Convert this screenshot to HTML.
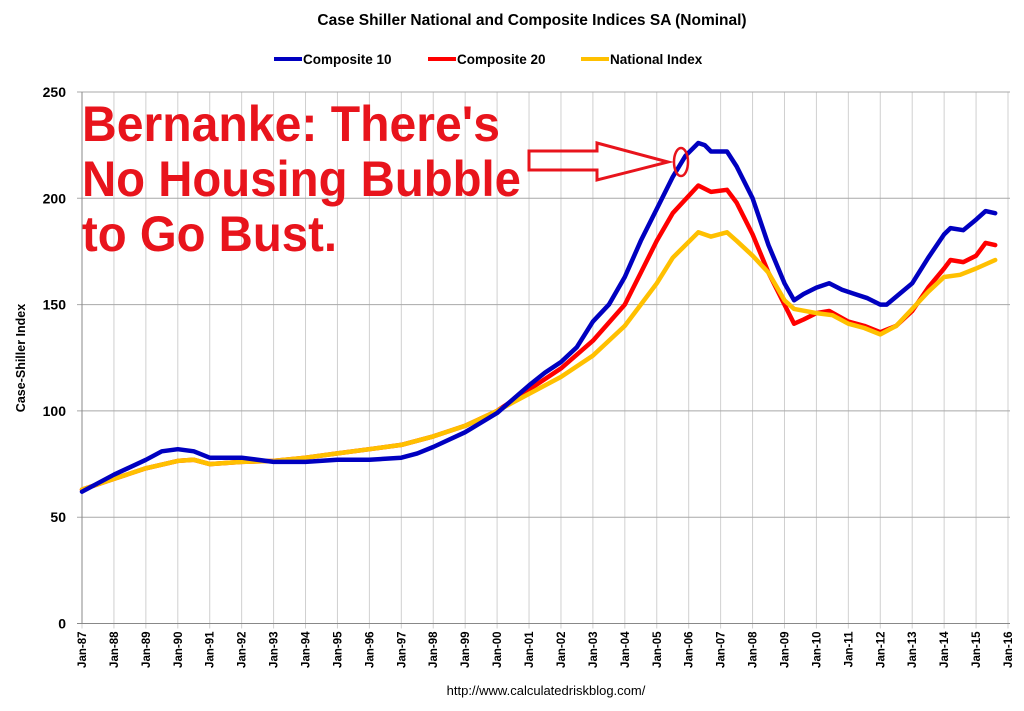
<!DOCTYPE html>
<html><head><meta charset="utf-8"><style>
body{margin:0;background:#fff}
svg{display:block;font-family:"Liberation Sans",sans-serif}
</style></head><body>
<svg id="chart" width="1024" height="711" viewBox="0 0 1024 711">
<text x="532" y="25" text-anchor="middle" font-size="15.5" font-weight="bold">Case Shiller National and Composite Indices SA (Nominal)</text>
<g font-size="13.5" font-weight="bold">
 <g><line x1="274" y1="59" x2="302" y2="59" stroke="#0000c0" stroke-width="4"/><text x="303" y="64">Composite 10</text></g>
 <g><line x1="428" y1="59" x2="456" y2="59" stroke="#f00" stroke-width="4"/><text x="457" y="64">Composite 20</text></g>
 <g><line x1="581" y1="59" x2="609" y2="59" stroke="#ffc000" stroke-width="4"/><text x="610" y="64">National Index</text></g>
</g>
<g id="grid"></g>
<g id="axes"></g>
<g id="series"></g>
<text transform="translate(25,358) rotate(-90)" text-anchor="middle" font-size="12.5" font-weight="bold">Case-Shiller Index</text>
<text x="546" y="695" text-anchor="middle" font-size="13">http://www.calculatedriskblog.com/</text>
<g fill="#e8141c" font-size="50" font-weight="bold">
 <text x="82" y="141" textLength="418" lengthAdjust="spacingAndGlyphs">Bernanke: There's</text>
 <text x="82" y="196" textLength="439" lengthAdjust="spacingAndGlyphs">No Housing Bubble</text>
 <text x="82" y="251" textLength="255" lengthAdjust="spacingAndGlyphs">to Go Bust.</text>
</g>
<polygon points="529,151 597,151 597,143 668,162 597,180 597,170 529,170" fill="none" stroke="#e8141c" stroke-width="3"/>
<ellipse cx="681" cy="162" rx="7" ry="14" fill="none" stroke="#e8141c" stroke-width="2.5"/>
</svg>
<script>
const yTicks=[0,50,100,150,200,250];
const xYears=[];for(let y=1987;y<=2016;y++)xYears.push(y);
const c10Dates=[1987,1988,1989,1989.5,1990,1990.5,1991,1991.5,1992,1993,1994,1995,1996,1997,1997.5,1998,1999,2000,2001,2001.5,2002,2002.5,2003,2003.5,2004,2004.5,2005,2005.5,2005.9,2006.3,2006.5,2006.7,2007.2,2007.5,2008,2008.5,2009,2009.3,2009.6,2010,2010.4,2010.8,2011.2,2011.6,2012,2012.2,2012.6,2013,2013.5,2014,2014.2,2014.6,2015,2015.3,2015.6];
const c10Values=[62,70,77,81,82,81,78,78,78,76,76,77,77,78,80,83,90,99,112,118,123,130,142,150,163,180,195,210,220,226,225,222,222,215,200,178,160,152,155,158,160,157,155,153,150,150,155,160,172,183,186,185,190,194,193];
const c20Dates=[1987,1988,1989,1990,1990.5,1991,1992,1993,1994,1995,1996,1997,1998,1999,2000,2001,2002,2003,2004,2004.5,2005,2005.5,2006.3,2006.7,2007.2,2007.5,2008,2008.5,2009,2009.3,2009.6,2010,2010.4,2011,2011.5,2012,2012.5,2013,2013.5,2014,2014.2,2014.6,2015,2015.3,2015.6];
const c20Values=[63,68,73,76.5,77,75,76,76.5,78,80,82,84,88,93,100,110,120,133,150,165,180,193,206,203,204,198,183,165,150,141,143,146,147,142,140,137,140,147,158,167,171,170,173,179,178];
const natDates=[1987,1988,1989,1990,1990.5,1991,1992,1993,1994,1995,1996,1997,1998,1999,2000,2001,2002,2003,2004,2004.5,2005,2005.5,2006.3,2006.7,2007.2,2007.5,2008,2008.5,2009,2009.3,2010,2010.5,2011,2011.5,2012,2012.5,2013,2013.5,2014,2014.5,2015,2015.6];
const natValues=[63,68,73,76.5,77,75,76,76.5,78,80,82,84,88,93,100,108,116,126,140,150,160,172,184,182,184,180,173,165,152,148,146,145,141,139,136,140,148,156,163,164,167,171];

const NS='http://www.w3.org/2000/svg';
const X0=82,X1=1008,Y0=623.5,Y1=92;
const xs=d=>X0+(d-1987)/(2016-1987)*(X1-X0);
const ys=v=>Y0-(v/250)*(Y0-Y1);
function mk(tag,attrs,parent){const e=document.createElementNS(NS,tag);for(const k in attrs)e.setAttribute(k,attrs[k]);parent.appendChild(e);return e;}
const grid=document.getElementById('grid'),axes=document.getElementById('axes'),series=document.getElementById('series');
xYears.forEach(y=>{
 const l=mk('line',{x1:xs(y),x2:xs(y),y1:Y1,y2:Y0+5,stroke:'#d0d0d0','stroke-width':1},grid);
 
 
 const t=mk('text',{transform:`translate(${xs(y)+4},${Y0+8}) rotate(-90)`,'text-anchor':'end','font-size':11.5,'font-weight':'bold'},axes);
 t.textContent='Jan-'+String(y%100).padStart(2,'0');
 
 
});
yTicks.forEach(v=>{
 const l=mk('line',{x1:X0-5,x2:X1+2,y1:ys(v),y2:ys(v),stroke:v===0?'#888':'#a8a8a8','stroke-width':1},grid);
 
 
 const t=mk('text',{x:66,y:ys(v)+5,'text-anchor':'end','font-size':14,'font-weight':'bold'},axes);
 t.textContent=v;
 
 
});
const ya=mk('line',{x1:X0,x2:X0,y1:Y1,y2:Y0,stroke:'#888'},axes);


function draw(dates,vals,color,name){
 const d=dates.map((x,i)=>(i?'L':'M')+xs(x).toFixed(1)+','+ys(vals[i]).toFixed(1)).join('');
 const p=mk('path',{d:d,fill:'none',stroke:color,'stroke-width':4.5,'stroke-linejoin':'round','stroke-linecap':'round'},series);
 
 
}
draw(c20Dates,c20Values,'#ff0000','composite-20-line');
draw(natDates,natValues,'#ffc000','national-index-line');
draw(c10Dates,c10Values,'#0000c0','composite-10-line');
</script>
</body></html>
